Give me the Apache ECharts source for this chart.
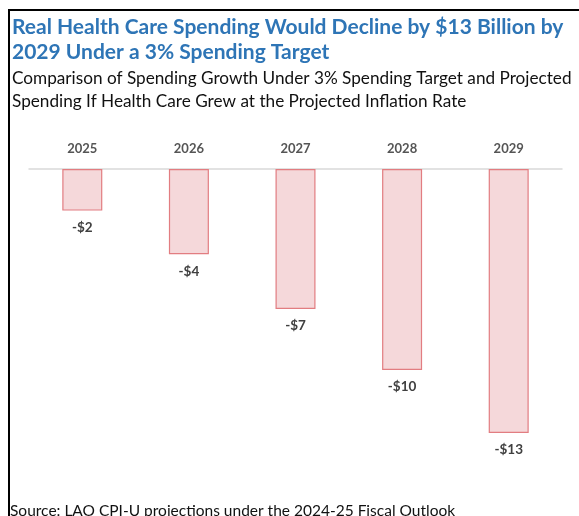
<!DOCTYPE html>
<html>
<head>
<meta charset="utf-8">
<script src="https://cdn.jsdelivr.net/npm/echarts@6/dist/echarts.min.js"></script>
<style>html,body{margin:0;padding:0;background:#fff;}#c{width:579px;height:516px;}</style>
</head>
<body>
<div id="c"></div>
<script>
var categories = ['2025', '2026', '2027', '2028', '2029'];
var values = [-2.05, -4.2, -6.9, -9.9, -13.0];
var valueLabels = ['-$2', '-$4', '-$7', '-$10', '-$13'];
var titleLines = ['Real Health Care Spending Would Decline by $13 Billion by', '2029 Under a 3% Spending Target'];
var subtitleLines = ['Comparison of Spending Growth Under 3% Spending Target and Projected', 'Spending If Health Care Grew at the Projected Inflation Rate'];
var sourceText = 'Source: LAO CPI-U projections under the 2024-25 Fiscal Outlook';

var chart = echarts.init(document.getElementById('c'), null, {renderer: 'canvas'});
chart.setOption({
  animation: false,
  backgroundColor: '#ffffff',
  grid: {left: 29, right: 17, top: 169, height: 304.5, containLabel: false},
  xAxis: {
    type: 'category',
    data: categories,
    position: 'top',
    axisLine: {show: true, onZero: false, lineStyle: {color: '#d9d9d9', width: 1.5}},
    axisTick: {show: false},
    axisLabel: {color: '#555555', fontFamily: 'Lato', fontWeight: 'bold', fontSize: 13, margin: 14}
  },
  yAxis: {
    type: 'value',
    min: -15,
    max: 0,
    show: false,
    splitLine: {show: false}
  },
  series: [{
    type: 'bar',
    data: values,
    barWidth: 40,
    itemStyle: {color: '#f5d8da', borderColor: '#e27d81', borderWidth: 1.2},
    label: {
      show: true,
      position: 'bottom',
      distance: 10,
      color: '#404040',
      fontFamily: 'Lato',
      fontWeight: 'bold',
      fontSize: 13.5,
      formatter: function (p) { return valueLabels[p.dataIndex]; }
    }
  }],
  graphic: [
    {type: 'rect', shape: {x: 8, y: 9, width: 600, height: 2}, style: {fill: '#000'}},
    {type: 'rect', shape: {x: 8, y: 9, width: 2, height: 520}, style: {fill: '#000'}},
    {type: 'text', left: 12, top: 17, style: {text: titleLines[0], fill: '#2e75b6', font: 'bold 21px Lato'}},
    {type: 'text', left: 12, top: 42, style: {text: titleLines[1], fill: '#2e75b6', font: 'bold 21px Lato'}},
    {type: 'text', left: 12, top: 70, style: {text: subtitleLines[0], fill: '#111', font: '17.2px Lato'}},
    {type: 'text', left: 12, top: 93, style: {text: subtitleLines[1], fill: '#111', font: '17.2px Lato'}},
    {type: 'text', left: 10, top: 503, style: {text: sourceText, fill: '#111', font: '15.5px Lato'}}
  ]
});
</script>
</body>
</html>
